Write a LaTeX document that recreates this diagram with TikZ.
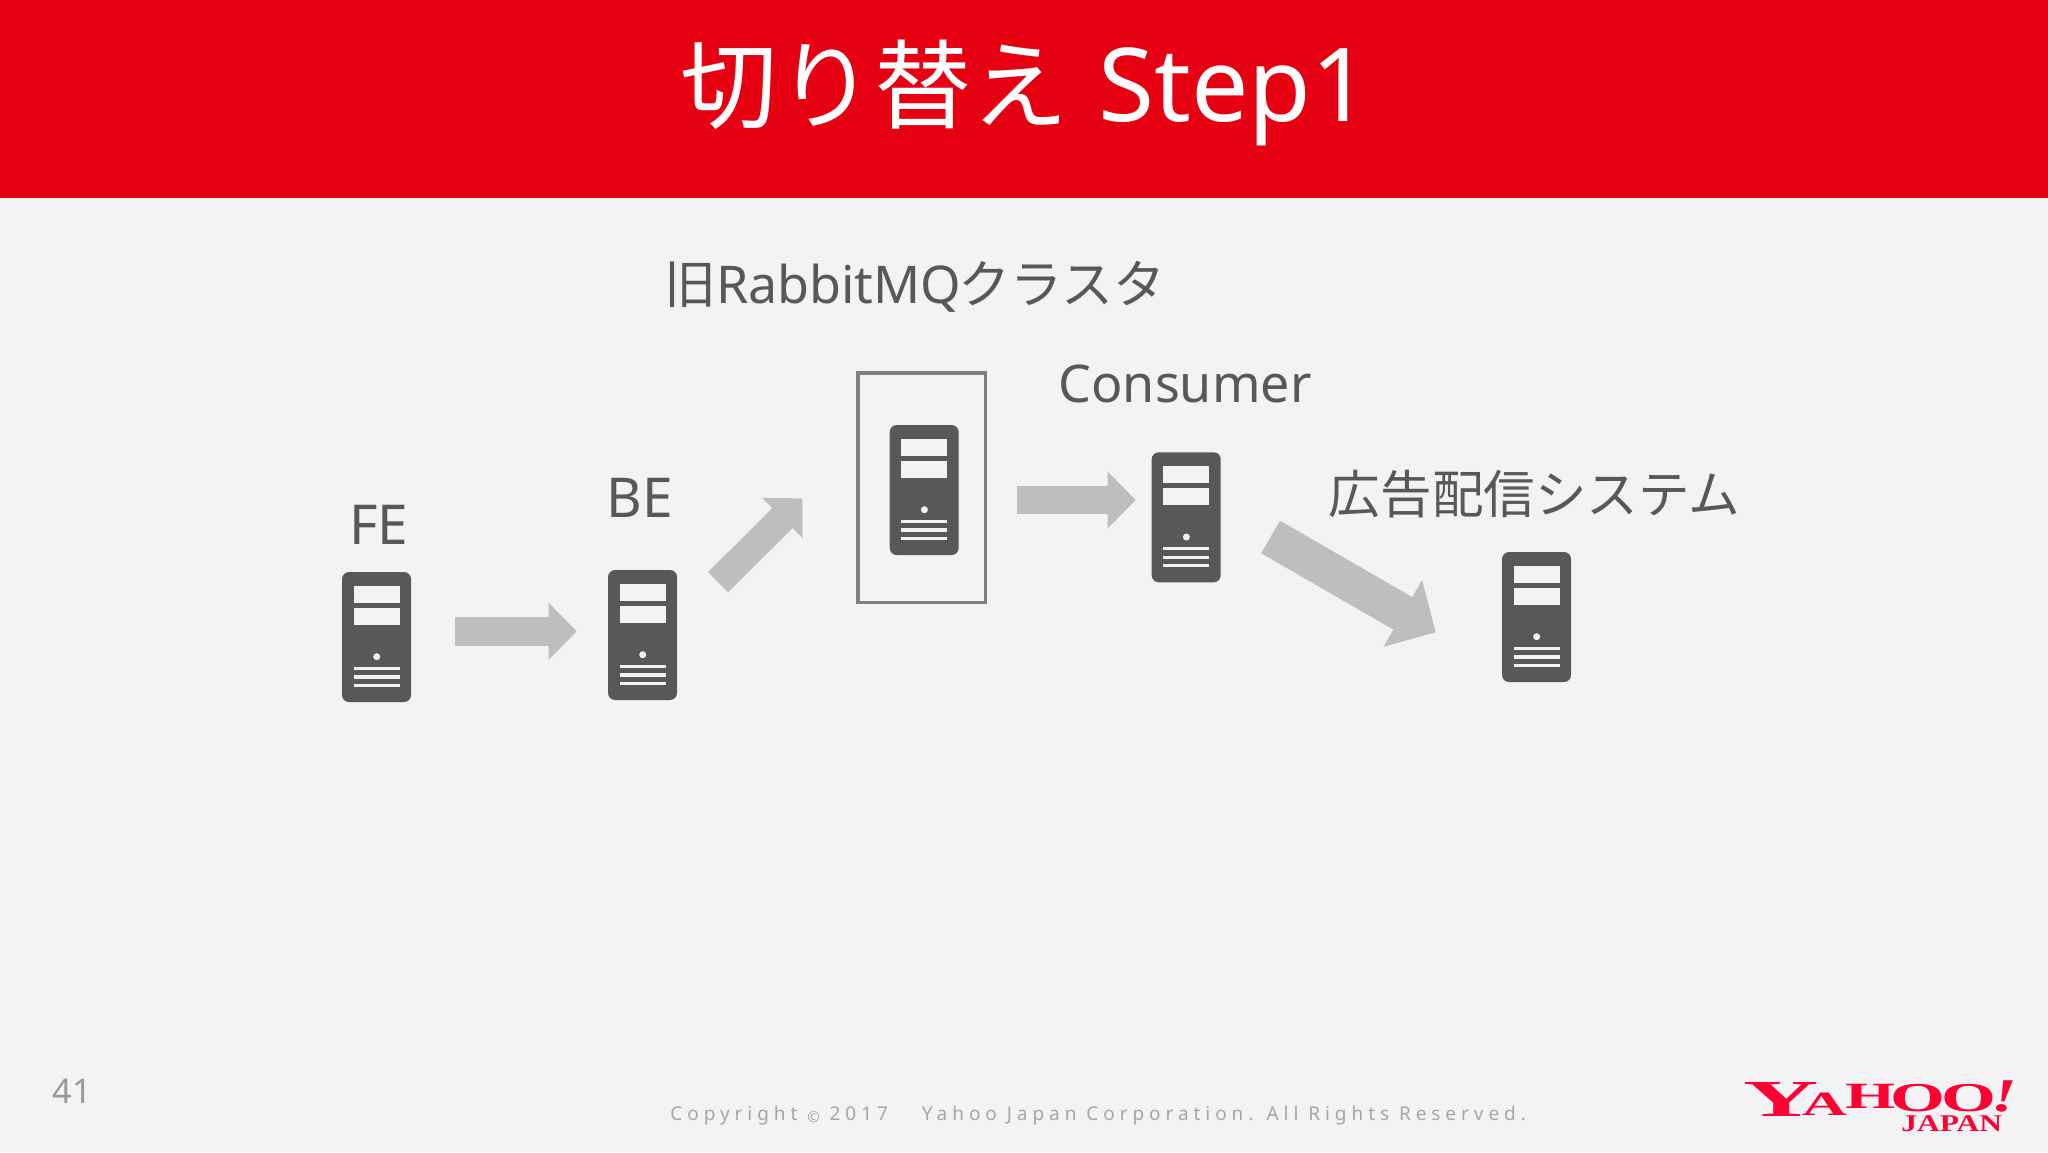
\documentclass[tikz,border=0pt]{standalone}
\usepackage{fontspec}
\usepackage{graphicx}
\usetikzlibrary{arrows.meta}
\newfontfamily\jpf{Noto Sans CJK JP}
\newfontfamily\latf{Noto Sans}
\newfontfamily\copyf[LetterSpace=26]{Noto Sans}
\newfontfamily\logof{Liberation Serif Bold}
\newfontfamily\logoi{Liberation Serif Bold Italic}
\definecolor{bandred}{HTML}{E50012}
\definecolor{pagebg}{HTML}{F3F2F5}
\definecolor{inkdark}{HTML}{58575A}
\definecolor{arrowgrey}{HTML}{BFBDC0}
\definecolor{boxgrey}{HTML}{808080}
\definecolor{footgrey}{HTML}{A6A6A8}
\definecolor{yred}{HTML}{FF0033}
\newcommand{\logopart}[6]{\makebox[0pt][l]{\hspace*{#1pt}\raisebox{#2pt}{\scalebox{#4}[1]{#6\fontsize{#3pt}{#3pt}\selectfont #5}}}}
\newcommand{\serverat}[3]{%
  \node[serverbox] (#1) at (#2,#3) {};
  \begin{scope}[shift={(#2,#3)}]
    \fill[pagebg] (11.7,14) rectangle (57.7,30.7);
    \fill[pagebg] (11.7,36) rectangle (57.7,52.7);
    \fill[pagebg] (34.7,84.7) circle[radius=3.5];
    \fill[pagebg] (11.7,94.7) rectangle (57.7,98);
    \fill[pagebg] (11.7,103.3) rectangle (57.7,106.6);
    \fill[pagebg] (11.7,111.7) rectangle (57.7,115);
  \end{scope}}
\tikzset{
  x=0.5pt,y=-0.5pt,
  serverbox/.style={anchor=north west,fill=inkdark,draw=none,rounded corners=3.5pt,minimum width=34.5pt,minimum height=65pt,inner sep=0pt,outer sep=0pt},
  label/.style={anchor=base,inner sep=0pt,outer sep=0pt,text=inkdark,font=\fontsize{26pt}{30pt}\selectfont},
  blockA/.style={draw=arrowgrey,line width=14.2pt,-{Triangle[length=14pt,width=27.6pt]}},
  blockB/.style={draw=arrowgrey,line width=18.8pt,-{Triangle[length=19pt,width=37.4pt]}},
}
\begin{document}
\begin{tikzpicture}
\useasboundingbox (0,0) rectangle (2048,1152);
\fill[pagebg] (0,0) rectangle (2048,1152);
\fill[bandred] (0,0) rectangle (2048,197.5);
\node[anchor=base west,inner sep=0pt,text=white,font=\fontsize{48.5pt}{52pt}\selectfont] (title) at (680,121) {\jpf 切り替え\hspace{15pt}\latf\fontsize{51pt}{52pt}\selectfont Step1};
\node[label,anchor=base west] (clusterlabel) at (664,303) {\jpf 旧\latf RabbitMQ\hspace{-1.5pt}\jpf クラスタ};
\node[label,font=\fontsize{27.5pt}{30pt}\selectfont] (felabel) at (379,544) {\latf FE};
\node[label,font=\fontsize{27.5pt}{30pt}\selectfont] (belabel) at (640,517) {\latf BE};
\node[label] (consumerlabel) at (1185,402) {\latf Consumer};
\node[label,font=\fontsize{25.8pt}{30pt}\selectfont] (adlabel) at (1534.5,513) {\jpf 広告配信システム};
\draw[boxgrey,line width=1.75pt] (857.8,373) rectangle (985.5,602.5);
\serverat{fe}{342}{572}
\serverat{be}{608}{570}
\serverat{mq}{889.7}{425}
\serverat{consumer}{1151.7}{452.3}
\serverat{ad}{1502}{552}
\coordinate (a1s) at (455.3,631.3); \coordinate (a1e) at (576.7,631.3);
\coordinate (a2s) at (718,582.2); \coordinate (a2e) at (802.3,498.3);
\coordinate (a3s) at (1017.3,500); \coordinate (a3e) at (1135.7,500);
\coordinate (a4s) at (1270.6,537); \coordinate (a4e) at (1435.7,632.3);
\draw[blockA] (a1s) -- (a1e);
\draw[blockA] (a2s) -- (a2e);
\draw[blockA] (a3s) -- (a3e);
\draw[blockB] (a4s) -- (a4e);
\node[anchor=base,inner sep=0pt,text=footgrey!92!black,font=\fontsize{17pt}{20pt}\selectfont] (pagenum) at (72,1103) {\latf 41};
\node[anchor=base west,inner sep=0pt,text=footgrey,font=\fontsize{9.5pt}{11pt}\selectfont] (copyright) at (670,1120) {\copyf Copyright \raisebox{-1pt}{\fontsize{7.5pt}{9pt}\selectfont ©} 2017\hspace{17pt}Yahoo Japan Corporation. All Rights Reserved.};
\node[anchor=base west,inner sep=0pt,text=yred] (yahoo) at (1743,1116) {\logopart{0}{0}{26}{2}{Y}{\logof}\logopart{29.2}{0.5}{17}{1.84}{A}{\logof}\logopart{50.8}{3.8}{18.5}{1.74}{H}{\logof}\logopart{73.3}{2.2}{20.5}{1.72}{O}{\logof}\logopart{99}{2.2}{20.5}{1.72}{O}{\logof}\logopart{124}{2.2}{23.5}{1.4}{!}{\logoi}\rule{133pt}{0pt}};
\node[anchor=base west,inner sep=0pt,text=yred] (japan) at (1901,1131) {\logopart{0}{0}{12}{1.31}{JAPAN}{\logof}\rule{50pt}{0pt}};
\end{tikzpicture}
\end{document}
